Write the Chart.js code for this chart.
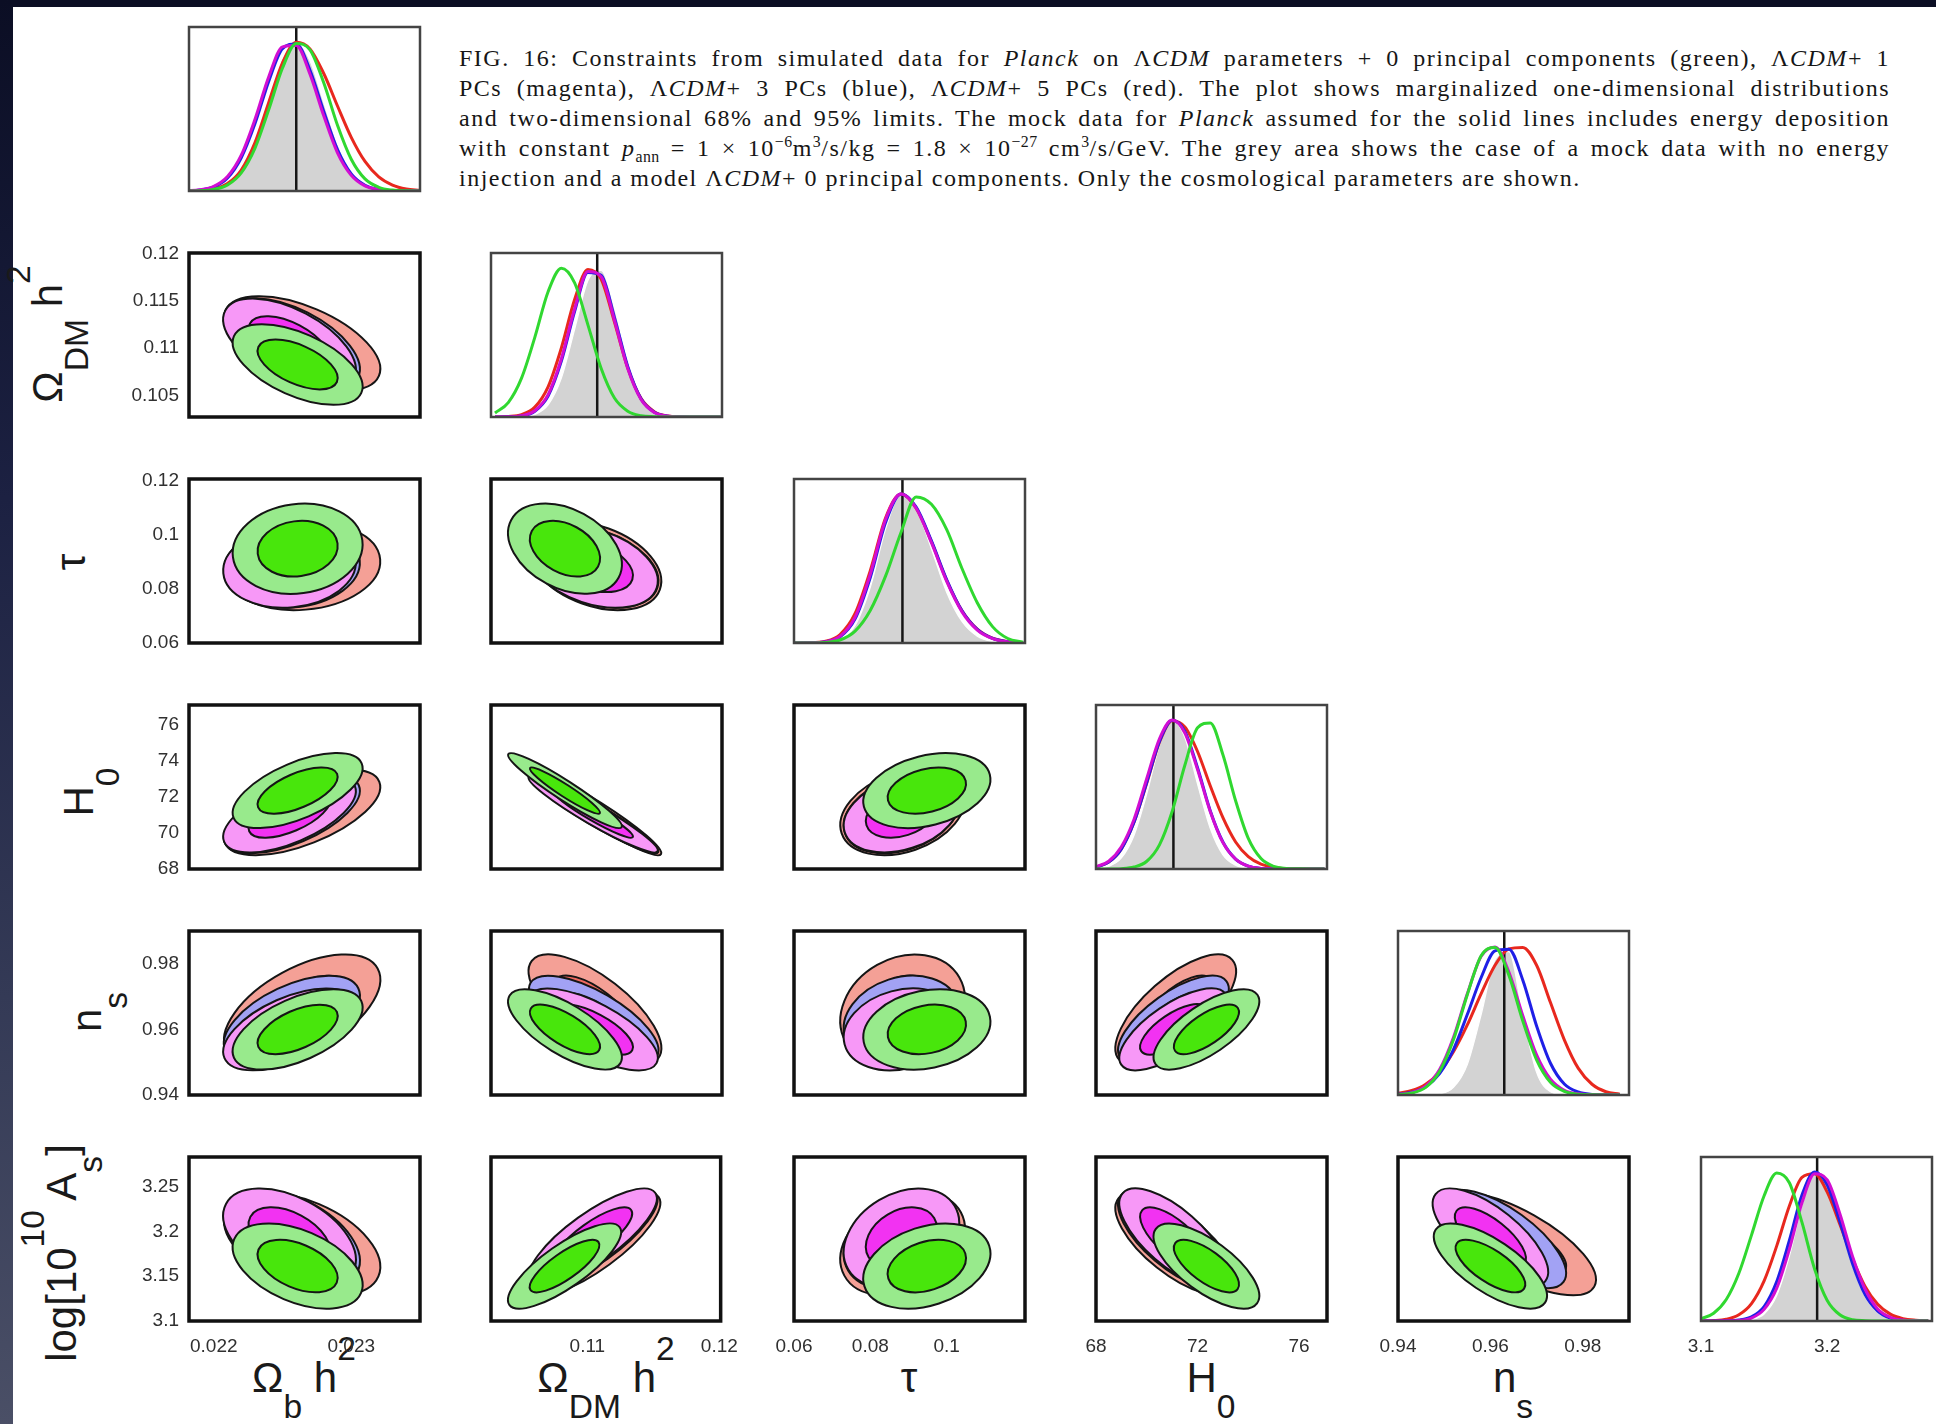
<!DOCTYPE html>
<html>
<head>
<meta charset="utf-8">
<title>FIG. 16 - Planck forecast triangle plot</title>
<script src="https://cdn.jsdelivr.net/npm/chart.js@4.4.1/dist/chart.umd.min.js"></script>
<style>
  html, body { margin: 0; padding: 0; }
  body { width: 1936px; height: 1424px; position: relative; overflow: hidden; background: #fff;
         font-family: 'Liberation Sans', Arial, sans-serif; }
  #edgeTop { position: absolute; left: 0; top: 0; width: 1936px; height: 7px; background: #0b0e24; }
  #edgeLeft { position: absolute; left: 0; top: 0; width: 13px; height: 1424px;
              background: linear-gradient(to bottom, #0b0e24 0%, #1c2142 35%, #343a56 70%, #4a4f66 100%); }
  canvas.panel { position: absolute; }
  .caption { position: absolute; left: 459px; top: 43px; width: 1431px;
             font-family: 'Liberation Serif', 'DejaVu Serif', serif; font-size: 24px; line-height: 30px;
             color: #161616; letter-spacing: 1.5px; }
  .caption div { white-space: nowrap; }
  .caption .j { text-align: justify; text-align-last: justify; }
  .caption sub, .caption sup { font-size: 0.66em; line-height: 0; letter-spacing: 0.5px; }
  .axlab { position: absolute; font-size: 42px; line-height: 1; color: #1a1a1a; white-space: nowrap; }
  .axlab sub, .axlab sup { font-size: 0.8em; position: relative; vertical-align: baseline; line-height: 0; }
  .axlab sub { top: 0.78em; }
  .axlab sup { top: -0.95em; }
  .xlab { transform: translateX(-50%); }
  .ylab { transform: translate(-50%, -50%) rotate(-90deg); }
</style>
</head>
<body>
<div id="edgeTop"></div>
<div id="edgeLeft"></div>

<div class="caption">
  <div class="j">FIG. 16: Constraints from simulated data for <i>Planck</i> on Λ<i>CDM</i> parameters + 0 principal components (green), Λ<i>CDM</i>+ 1</div>
  <div class="j">PCs (magenta), Λ<i>CDM</i>+ 3 PCs (blue), Λ<i>CDM</i>+ 5 PCs (red). The plot shows marginalized one-dimensional distributions</div>
  <div class="j">and two-dimensional 68% and 95% limits. The mock data for <i>Planck</i> assumed for the solid lines includes energy deposition</div>
  <div class="j">with constant <i>p</i><sub>ann</sub> = 1 × 10<sup>−6</sup>m<sup>3</sup>/s/kg = 1.8 × 10<sup>−27</sup> cm<sup>3</sup>/s/GeV. The grey area shows the case of a mock data with no energy</div>
  <div>injection and a model Λ<i>CDM</i>+ 0 principal components. Only the cosmological parameters are shown.</div>
</div>

<div class="axlab xlab" style="left:304px; top:1357px">Ω<sub>b</sub> h<sup>2</sup></div>
<div class="axlab xlab" style="left:606px; top:1357px">Ω<sub>DM</sub> h<sup>2</sup></div>
<div class="axlab xlab" style="left:909px; top:1357px">τ</div>
<div class="axlab xlab" style="left:1211px; top:1357px">H<sub>0</sub></div>
<div class="axlab xlab" style="left:1513px; top:1357px">n<sub>s</sub></div>

<div class="axlab ylab" style="left:48px; top:334px">Ω<sub>DM</sub> h<sup>2</sup></div>
<div class="axlab ylab" style="left:71px; top:562px">τ</div>
<div class="axlab ylab" style="left:79px; top:792px">H<sub>0</sub></div>
<div class="axlab ylab" style="left:87px; top:1012px">n<sub>s</sub></div>
<div class="axlab ylab" style="left:62px; top:1253px">log[10<sup>10</sup> A<sub>s</sub>]</div>

<script>
// parameters, in triangle order: Ωb h², ΩDM h², τ, H0, ns, log[10^10 As]
const axisMin = [0.02182, 0.1027, 0.06, 68, 0.94, 3.1];
const axisMax = [0.0235, 0.1201, 0.1205, 77.1, 0.99, 3.283];
const fiducial = [0.0226, 0.1107, 0.0884, 71.05, 0.963, 3.192];

const xTickValues = [[0.022, 0.023], [0.11, 0.12], [0.06, 0.08, 0.1], [68, 72, 76], [0.94, 0.96, 0.98], [3.1, 3.2]];
const xTickLabels = [['0.022', '0.023'], ['0.11', '0.12'], ['0.06', '0.08', '0.1'], ['68', '72', '76'], ['0.94', '0.96', '0.98'], ['3.1', '3.2']];
const yTickValues = [[], [0.105, 0.11, 0.115, 0.12], [0.06, 0.08, 0.1, 0.12], [68, 70, 72, 74, 76], [0.94, 0.96, 0.98], [3.1, 3.15, 3.2, 3.25]];
const yTickLabels = [[], ['0.105', '0.11', '0.115', '0.12'], ['0.06', '0.08', '0.1', '0.12'], ['68', '70', '72', '74', '76'], ['0.94', '0.96', '0.98'], ['3.1', '3.15', '3.2', '3.25']];

// 1D marginalized distributions (peak = 1)
const omegaBGrid = [0.0218, 0.0219, 0.0220, 0.0221, 0.0222, 0.0223, 0.0224, 0.0225, 0.0226, 0.0227, 0.0228, 0.0229, 0.0230, 0.0231, 0.0232, 0.0233, 0.0234, 0.0235];
const omegaBGrey = [0, 0.002, 0.012, 0.046, 0.141, 0.334, 0.618, 0.891, 1.000, 0.874, 0.594, 0.315, 0.130, 0.042, 0.010, 0.002, 0, 0];
const omegaBRed = [0.001, 0.003, 0.014, 0.050, 0.141, 0.325, 0.594, 0.860, 0.998, 0.953, 0.788, 0.570, 0.360, 0.198, 0.095, 0.040, 0.014, 0.005];
const omegaBBlue = [0.001, 0.007, 0.027, 0.087, 0.223, 0.452, 0.737, 0.955, 0.986, 0.810, 0.534, 0.278, 0.115, 0.039, 0.010, 0.002, 0, 0];
const omegaBMagenta = [0.002, 0.008, 0.031, 0.097, 0.240, 0.481, 0.766, 0.967, 0.976, 0.783, 0.504, 0.256, 0.105, 0.034, 0.009, 0.002, 0, 0];
const omegaBGreen = [0, 0.002, 0.011, 0.041, 0.122, 0.288, 0.546, 0.825, 0.989, 0.947, 0.726, 0.441, 0.213, 0.081, 0.025, 0.006, 0.001, 0];

const omegaDMGrid = [0.103, 0.104, 0.105, 0.106, 0.107, 0.108, 0.109, 0.110, 0.111, 0.112, 0.113, 0.114, 0.115, 0.116, 0.117, 0.118, 0.119, 0.120];
const omegaDMGrey = [0, 0, 0.003, 0.017, 0.081, 0.261, 0.588, 0.915, 0.984, 0.732, 0.380, 0.135, 0.033, 0.006, 0.001, 0, 0, 0];
const omegaDMRed = [0, 0.003, 0.016, 0.066, 0.202, 0.463, 0.788, 0.989, 0.923, 0.637, 0.329, 0.125, 0.036, 0.007, 0.001, 0, 0, 0];
const omegaDMBlue = [0, 0.001, 0.007, 0.039, 0.141, 0.375, 0.709, 0.969, 0.950, 0.667, 0.339, 0.122, 0.032, 0.006, 0.001, 0, 0, 0];
const omegaDMMagenta = [0, 0.001, 0.008, 0.042, 0.150, 0.391, 0.726, 0.976, 0.941, 0.649, 0.325, 0.117, 0.030, 0.006, 0.001, 0, 0, 0];
const omegaDMGreen = [0.027, 0.097, 0.261, 0.534, 0.840, 0.998, 0.900, 0.618, 0.325, 0.127, 0.039, 0.009, 0.002, 0, 0, 0, 0, 0];

const tauGrid = [0.060, 0.064, 0.068, 0.072, 0.076, 0.080, 0.084, 0.088, 0.092, 0.096, 0.100, 0.104, 0.108, 0.112, 0.116, 0.120];
const tauGrey = [0, 0, 0.003, 0.024, 0.117, 0.375, 0.766, 0.998, 0.900, 0.631, 0.339, 0.144, 0.046, 0.011, 0.002, 0];
const tauRed = [0, 0.001, 0.010, 0.055, 0.198, 0.487, 0.840, 1.000, 0.904, 0.679, 0.419, 0.216, 0.093, 0.032, 0.010, 0.002];
const tauBlue = [0, 0.001, 0.007, 0.040, 0.162, 0.441, 0.810, 1.000, 0.912, 0.685, 0.424, 0.216, 0.091, 0.031, 0.009, 0.002];
const tauMagenta = [0, 0.001, 0.007, 0.044, 0.174, 0.463, 0.830, 1.000, 0.904, 0.673, 0.413, 0.209, 0.087, 0.030, 0.008, 0.002];
const tauGreen = [0, 0, 0.004, 0.020, 0.080, 0.220, 0.450, 0.740, 0.980, 0.930, 0.760, 0.500, 0.270, 0.110, 0.030, 0.005];

const H0Grid = [68, 68.5, 69, 69.5, 70, 70.5, 71, 71.5, 72, 72.5, 73, 73.5, 74, 74.5, 75, 75.5, 76, 76.5, 77];
const H0Grey = [0.003, 0.018, 0.074, 0.227, 0.504, 0.830, 0.998, 0.882, 0.570, 0.273, 0.095, 0.025, 0.005, 0.001, 0, 0, 0, 0, 0];
const H0Red = [0.013, 0.046, 0.135, 0.315, 0.576, 0.850, 0.995, 0.953, 0.788, 0.558, 0.344, 0.181, 0.083, 0.032, 0.011, 0.003, 0.001, 0, 0];
const H0Blue = [0.012, 0.046, 0.135, 0.315, 0.582, 0.855, 0.997, 0.923, 0.679, 0.391, 0.181, 0.066, 0.019, 0.004, 0.001, 0, 0, 0, 0];
const H0Magenta = [0.015, 0.052, 0.149, 0.334, 0.607, 0.873, 0.999, 0.912, 0.667, 0.386, 0.177, 0.066, 0.019, 0.004, 0.001, 0, 0, 0, 0];
const H0Green = [0, 0, 0.002, 0.013, 0.052, 0.162, 0.386, 0.696, 0.947, 0.980, 0.766, 0.458, 0.205, 0.070, 0.018, 0.004, 0.001, 0, 0];

const nsGrid = [0.940, 0.943, 0.946, 0.949, 0.952, 0.955, 0.958, 0.961, 0.964, 0.967, 0.970, 0.973, 0.976, 0.979, 0.982, 0.985, 0.988];
const nsGrey = [0, 0, 0.001, 0.008, 0.051, 0.205, 0.540, 0.907, 0.962, 0.540, 0.152, 0.021, 0.001, 0, 0, 0, 0];
const nsRed = [0.012, 0.030, 0.072, 0.155, 0.290, 0.470, 0.680, 0.870, 0.980, 0.990, 0.870, 0.620, 0.370, 0.180, 0.072, 0.022, 0.006];
const nsBlue = [0.005, 0.018, 0.056, 0.144, 0.305, 0.540, 0.788, 0.967, 0.978, 0.772, 0.463, 0.213, 0.074, 0.020, 0.004, 0.001, 0];
const nsMagenta = [0.003, 0.016, 0.059, 0.171, 0.386, 0.679, 0.930, 0.993, 0.825, 0.534, 0.269, 0.106, 0.032, 0.008, 0.001, 0, 0];
const nsGreen = [0.002, 0.013, 0.051, 0.158, 0.370, 0.673, 0.934, 0.989, 0.804, 0.498, 0.236, 0.085, 0.024, 0.005, 0.001, 0, 0];

const AsGrid = [3.10, 3.11, 3.12, 3.13, 3.14, 3.15, 3.16, 3.17, 3.18, 3.19, 3.20, 3.21, 3.22, 3.23, 3.24, 3.25, 3.26, 3.27, 3.28];
const AsGrey = [0, 0, 0, 0.001, 0.009, 0.047, 0.171, 0.435, 0.777, 0.993, 0.923, 0.667, 0.375, 0.164, 0.056, 0.015, 0.003, 0, 0];
const AsRed = [0.001, 0.003, 0.012, 0.042, 0.117, 0.269, 0.504, 0.772, 0.964, 0.988, 0.864, 0.649, 0.419, 0.232, 0.112, 0.046, 0.016, 0.005, 0.001];
const AsBlue = [0, 0, 0.001, 0.006, 0.028, 0.097, 0.265, 0.540, 0.845, 0.999, 0.912, 0.667, 0.386, 0.177, 0.066, 0.019, 0.004, 0.001, 0];
const AsMagenta = [0, 0, 0.001, 0.004, 0.020, 0.078, 0.220, 0.481, 0.793, 0.987, 0.947, 0.720, 0.435, 0.213, 0.081, 0.025, 0.006, 0.001, 0];
const AsGreen = [0.015, 0.052, 0.144, 0.320, 0.576, 0.840, 0.992, 0.927, 0.661, 0.349, 0.138, 0.042, 0.009, 0.002, 0, 0, 0, 0, 0];

const meanRed = [0.022643, 0.11053, 0.08844, 71.14, 0.966, 3.186];
const meanBlue = [0.022568, 0.11044, 0.08813, 71.05, 0.963, 3.1915];
const meanMagenta = [0.022551, 0.11039, 0.08813, 71.05, 0.960, 3.193];
const meanGreen = [0.022610, 0.10827, 0.09479, 72.35, 0.960, 3.1613];
const sigmaRed = [0.000232, 0.00204, 0.00666, 0.97, 0.00688, 0.0234];
const sigmaBlue = [0.000202, 0.00199, 0.00617, 0.89, 0.00546, 0.0224];
const sigmaMagenta = [0.000197, 0.00199, 0.00617, 0.87, 0.0051, 0.0224];
const sigmaGreen = [0.000193, 0.00175, 0.00680, 0.85, 0.0050, 0.0194];

// correlation of row parameter with each column parameter
const corrRow1 = [-0.55];
const corrRow2 = [0.10, -0.35];
const corrRow3 = [0.60, -0.95, 0.30];
const corrRow4 = [0.55, -0.70, 0.20, 0.70];
const corrRow5 = [-0.45, 0.80, 0.30, -0.70, -0.70];

const contourLevels = [0.95, 0.68];

// ---------------------------------------------------------------------------
const colLeft = [189, 491, 794, 1096, 1398, 1701];
const rowTop = [27, 253, 479, 705, 931, 1157];
const PW = 231, PH = 164;
const M = { l: 90, r: 30, t: 30, b: 50 };
const tickFont = "'Liberation Sans', Arial, sans-serif";

const corrRows = [[], corrRow1, corrRow2, corrRow3, corrRow4, corrRow5];

const marginals = [
  { grid: omegaBGrid, grey: omegaBGrey, red: omegaBRed, blue: omegaBBlue, magenta: omegaBMagenta, green: omegaBGreen },
  { grid: omegaDMGrid, grey: omegaDMGrey, red: omegaDMRed, blue: omegaDMBlue, magenta: omegaDMMagenta, green: omegaDMGreen },
  { grid: tauGrid, grey: tauGrey, red: tauRed, blue: tauBlue, magenta: tauMagenta, green: tauGreen },
  { grid: H0Grid, grey: H0Grey, red: H0Red, blue: H0Blue, magenta: H0Magenta, green: H0Green },
  { grid: nsGrid, grey: nsGrey, red: nsRed, blue: nsBlue, magenta: nsMagenta, green: nsGreen },
  { grid: AsGrid, grey: AsGrey, red: AsRed, blue: AsBlue, magenta: AsMagenta, green: AsGreen }
];

// drawing order back to front
const contourModels = [
  { mean: meanRed, sigma: sigmaRed, fills: ['#f4a096', '#ee6a60'] },
  { mean: meanBlue, sigma: sigmaBlue, fills: ['#a2a2f4', '#5656ee'] },
  { mean: meanMagenta, sigma: sigmaMagenta, fills: ['#f798f7', '#f232f2'] },
  { mean: meanGreen, sigma: sigmaGreen, fills: ['#98ea8c', '#48e60c'] }
];

// box round the plot area
const framePlugin = {
  id: 'frame',
  afterDraw(chart, args, opts) {
    const { ctx, chartArea: a } = chart;
    ctx.save();
    ctx.strokeStyle = opts.color;
    ctx.lineWidth = opts.width;
    ctx.strokeRect(a.left, a.top, a.width, a.height);
    ctx.restore();
  }
};

// 68% / 95% ellipses, placed through the chart's scales
const contourPlugin = {
  id: 'contours',
  beforeDatasetsDraw(chart, args, opts) {
    const { ctx, chartArea: a, scales: { x, y } } = chart;
    const px = opts.px, py = opts.py;
    const rho = corrRows[py][px];
    ctx.save();
    ctx.beginPath();
    ctx.rect(a.left, a.top, a.width, a.height);
    ctx.clip();
    contourModels.forEach(m => {
      const cx = x.getPixelForValue(m.mean[px]);
      const cy = y.getPixelForValue(m.mean[py]);
      const sx = Math.abs(x.getPixelForValue(m.mean[px] + m.sigma[px]) - cx);
      const sy = Math.abs(y.getPixelForValue(m.mean[py] + m.sigma[py]) - cy);
      // covariance in pixel space (y points down)
      const cxx = sx * sx, cyy = sy * sy, cxy = -rho * sx * sy;
      const h = (cxx + cyy) / 2;
      const d = Math.sqrt(((cxx - cyy) / 2) ** 2 + cxy * cxy);
      const l1 = h + d, l2 = Math.max(h - d, 0.5);
      const ang = 0.5 * Math.atan2(2 * cxy, cxx - cyy);
      contourLevels.forEach((p, k) => {
        const r = Math.sqrt(-2 * Math.log(1 - p));
        ctx.beginPath();
        ctx.ellipse(cx, cy, r * Math.sqrt(l1), r * Math.sqrt(l2), ang, 0, 2 * Math.PI);
        ctx.fillStyle = m.fills[k];
        ctx.fill();
        ctx.lineWidth = 2;
        ctx.strokeStyle = '#151515';
        ctx.stroke();
      });
    });
    ctx.restore();
  }
};

function axis(p, dir, show) {
  const vals = dir === 'x' ? xTickValues[p] : yTickValues[p];
  const labels = dir === 'x' ? xTickLabels[p] : yTickLabels[p];
  const size = !show ? 0 : (dir === 'x' ? M.b : M.l);
  return {
    type: 'linear',
    position: dir === 'x' ? 'bottom' : 'left',
    display: show,
    min: axisMin[p],
    max: axisMax[p],
    grid: { display: false, drawTicks: false },
    border: { display: false },
    ticks: {
      autoSkip: false, maxRotation: 0, minRotation: 0,
      padding: dir === 'x' ? 14 : 10,
      color: '#303030',
      font: { size: 19, family: tickFont },
      callback: (v, i) => labels[i]
    },
    afterBuildTicks: s => { s.ticks = vals.map(v => ({ value: v })); },
    // a shown axis takes the whole margin, so the plot area stays the panel box
    afterFit: s => { if (dir === 'x') s.height = size; else s.width = size; }
  };
}

function baseOptions(showX, showY) {
  return {
    responsive: false,
    animation: false,
    devicePixelRatio: 1,
    events: [],
    layout: {
      padding: { left: showY ? 0 : M.l, right: M.r, top: M.t, bottom: showX ? 0 : M.b },
      autoPadding: false
    },
    elements: {
      point: { radius: 0 },
      line: { borderWidth: 3, fill: false, cubicInterpolationMode: 'monotone' }
    },
    plugins: { legend: { display: false }, tooltip: { enabled: false } }
  };
}

function makeCanvas(row, col) {
  const c = document.createElement('canvas');
  c.className = 'panel';
  c.width = PW + M.l + M.r;
  c.height = PH + M.t + M.b;
  c.style.left = (colLeft[col] - M.l) + 'px';
  c.style.top = (rowTop[row] - M.t) + 'px';
  document.body.appendChild(c);
  return c;
}

function drawMarginal(p) {
  const m = marginals[p];
  const pts = vals => m.grid.map((x, i) => ({ x: x, y: vals[i] }));
  const showX = p === 5;
  const opts = baseOptions(showX, false);
  opts.scales = {
    x: axis(p, 'x', showX),
    y: { type: 'linear', display: false, min: 0, max: 1.1, afterFit: s => { s.width = 0; } }
  };
  opts.plugins.frame = { color: '#444', width: 2.5 };
  new Chart(makeCanvas(p, p), {
    type: 'line',
    data: {
      datasets: [
        { data: pts(m.green), borderColor: '#30d830', order: 1 },
        { data: pts(m.magenta), borderColor: '#d20ed2', order: 2 },
        { data: pts(m.blue), borderColor: '#1f1fe6', order: 3 },
        { data: pts(m.red), borderColor: '#e8281e', order: 4 },
        { data: [{ x: fiducial[p], y: 0 }, { x: fiducial[p], y: 1.2 }],
          borderColor: '#151515', borderWidth: 2.5, cubicInterpolationMode: 'default', tension: 0, order: 5 },
        { data: pts(m.grey), borderColor: '#ffffff', borderWidth: 1.2,
          backgroundColor: '#d3d3d3', fill: 'origin', order: 6 }
      ]
    },
    options: opts,
    plugins: [framePlugin]
  });
}

function drawContours(row, col) {
  const showX = row === 5, showY = col === 0;
  const opts = baseOptions(showX, showY);
  opts.scales = {
    x: axis(col, 'x', showX),
    y: axis(row, 'y', showY)
  };
  opts.plugins.frame = { color: '#111', width: 3.5 };
  opts.plugins.contours = { px: col, py: row };
  new Chart(makeCanvas(row, col), {
    type: 'scatter',
    data: { datasets: [] },
    options: opts,
    plugins: [contourPlugin, framePlugin]
  });
}

for (let row = 0; row < 6; row++) {
  for (let col = 0; col <= row; col++) {
    if (row === col) drawMarginal(row);
    else drawContours(row, col);
  }
}
</script>
</body>
</html>
